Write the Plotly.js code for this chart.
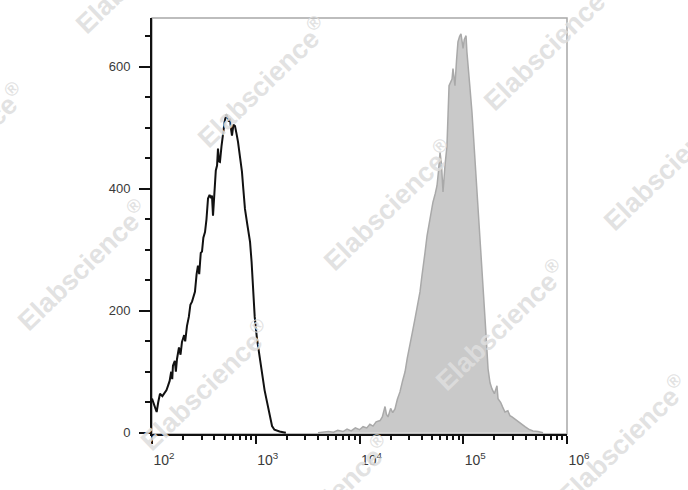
<!DOCTYPE html>
<html>
<head>
<meta charset="utf-8">
<script src="https://cdn.plot.ly/plotly-3.0.1.min.js"></script>
<style>html,body{margin:0;padding:0;background:#fff;}#chart{width:688px;height:490px;}</style>
</head>
<body>
<div id="chart"></div>
<script>
// Control (unstained) histogram: bin position (log10 of intensity) and count
const controlLog = [2.000,2.020,2.045,2.060,2.077,2.100,2.125,2.140,2.154,2.170,2.185,2.195,2.202,2.220,2.230,2.241,2.260,2.275,2.289,2.310,2.320,2.337,2.355,2.370,2.386,2.400,2.414,2.430,2.443,2.455,2.470,2.482,2.495,2.511,2.525,2.540,2.555,2.570,2.578,2.588,2.600,2.615,2.627,2.636,2.645,2.655,2.670,2.684,2.700,2.715,2.723,2.740,2.752,2.762,2.771,2.785,2.800,2.815,2.829,2.850,2.867,2.880,2.896,2.920,2.945,2.960,2.973,2.990,3.012,3.035,3.060,3.085,3.108,3.130,3.157,3.180,3.205,3.230,3.263,3.290];
const controlCount = [56,45,34,50,64,60,67,70,77,85,100,88,110,118,100,121,140,128,149,160,150,175,190,210,215,225,231,260,274,260,295,297,320,329,350,384,390,385,389,356,400,430,438,466,445,444,470,493,510,522,520,510,515,498,487,505,503,490,477,450,428,400,367,340,313,280,231,190,154,125,93,70,51,30,11,5,3,2,1,0];

// Stained sample histogram
const stainedLog = [3.600,3.650,3.700,3.750,3.790,3.841,3.880,3.920,3.960,4.000,4.034,4.070,4.100,4.130,4.160,4.198,4.220,4.246,4.260,4.275,4.300,4.320,4.342,4.365,4.390,4.415,4.439,4.460,4.487,4.510,4.535,4.560,4.583,4.600,4.612,4.631,4.651,4.680,4.708,4.730,4.747,4.762,4.776,4.790,4.805,4.825,4.843,4.863,4.878,4.892,4.901,4.910,4.920,4.935,4.949,4.965,4.978,4.990,4.998,5.010,5.027,5.035,5.046,5.065,5.084,5.100,5.113,5.130,5.142,5.160,5.181,5.195,5.210,5.225,5.239,5.258,5.277,5.300,5.325,5.335,5.360,5.380,5.402,5.430,5.450,5.470,5.500,5.528,5.560,5.595,5.630,5.672,5.720,5.769];
const stainedCount = [0,1,2,1,4,2,6,3,8,5,10,8,14,11,18,20,26,43,30,26,40,33,39,55,67,85,100,122,143,165,187,210,231,255,274,295,323,354,378,392,405,430,460,440,395,440,470,569,575,580,597,585,569,610,641,650,654,640,630,645,651,625,597,565,526,485,444,400,362,315,269,228,187,145,105,82,72,64,77,56,50,42,34,36,28,26,22,18,14,10,6,3,2,0];

// Axis ticks
const xTickVals = [1e2,1e3,1e4,1e5,1e6];
const xTickText = ['10<sup>2</sup>','10<sup>3</sup>','10<sup>4</sup>','10<sup>5</sup>','10<sup>6</sup>'];
const yTickVals = [0,200,400,600];
const yTickText = ['0','200','400','600'];

const watermark = 'Elabscience<sup>®</sup>';
// watermark centres in page pixels
const wmX = [-40,140,262,388,500,622,82,205,325,548,668];
const wmY = [148,-32,82,205,325,440,265,385,500,45,165];

const L = 152, R = 121, T = 18, B = 56, W = 688, H = 490;
const pw = W - L - R, ph = H - T - B;

const toLin = a => a.map(v => Math.pow(10, v));
const xMinor = [];
for (let d = 2; d < 6; d++) for (let k = 2; k <= 9; k++) xMinor.push(k * Math.pow(10, d));
const yMinor = [];
for (let v = 0; v <= 650; v += 50) if (v % 200 !== 0) yMinor.push(v);

const traces = [
  {x: toLin(stainedLog), y: stainedCount, type: 'scatter', mode: 'lines',
   fill: 'tozeroy', fillcolor: '#c9c9c9', line: {color: '#a9a9a9', width: 1.5}, hoverinfo: 'skip'},
  {x: toLin(controlLog), y: controlCount, type: 'scatter', mode: 'lines',
   line: {color: '#111111', width: 2}, hoverinfo: 'skip'}
];

const annotations = wmX.map((px, i) => ({
  text: watermark, xref: 'paper', yref: 'paper',
  x: (px - L) / pw, y: (H - B - wmY[i]) / ph,
  xanchor: 'center', yanchor: 'middle', showarrow: false, textangle: -44,
  font: {family: 'Liberation Sans, Arial, sans-serif', size: 27, color: 'rgba(222,222,222,0.9)', weight: 'bold'}
}));

const layout = {
  width: W, height: H,
  margin: {l: L, r: R, t: T, b: B, pad: 0},
  paper_bgcolor: '#ffffff', plot_bgcolor: '#ffffff',
  showlegend: false,
  font: {family: 'Liberation Sans, Arial, sans-serif', size: 13, color: '#3a3a3a'},
  xaxis: {
    type: 'log', range: [2, 6], showgrid: false, zeroline: false,
    showline: true, linecolor: '#111', linewidth: 2,
    tickmode: 'array', tickvals: xTickVals, ticktext: xTickText,
    ticks: 'outside', ticklen: 8, tickwidth: 2, tickcolor: '#111',
    ticklabelshift: 12, ticklabelstandoff: 4,
    minor: {tickmode: 'array', tickvals: xMinor, ticks: 'outside', ticklen: 4, tickwidth: 2, tickcolor: '#111', showgrid: false},
    tickfont: {size: 14, color: '#3a3a3a'}
  },
  yaxis: {
    range: [-2, 680], showgrid: false, zeroline: false,
    showline: true, linecolor: '#111', linewidth: 2,
    tickmode: 'array', tickvals: yTickVals, ticktext: yTickText,
    ticks: 'outside', ticklen: 11, tickwidth: 2, tickcolor: '#111',
    ticklabelstandoff: 6,
    minor: {tickmode: 'array', tickvals: yMinor, ticks: 'outside', ticklen: 5, tickwidth: 2, tickcolor: '#111', showgrid: false},
    tickfont: {size: 13, color: '#3a3a3a'}
  },
  shapes: [{type: 'rect', xref: 'paper', yref: 'paper', x0: 0, x1: 1, y0: 0, y1: 1,
            line: {color: '#a8a8a8', width: 1.5}, layer: 'below'}],
  annotations: annotations
};

Plotly.newPlot('chart', traces, layout, {displayModeBar: false, staticPlot: true});
</script>
</body>
</html>
